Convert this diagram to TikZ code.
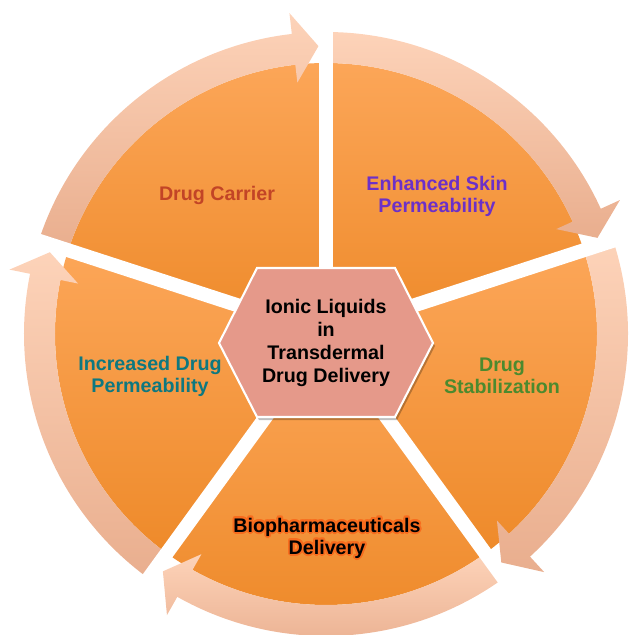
\documentclass[tikz,border=0pt]{standalone}
\usepackage{fontspec}
\setmainfont{Liberation Sans}
\usepackage{contour}
\usetikzlibrary{calc}

\definecolor{sectortop}{RGB}{252,166,88}
\definecolor{sectorbottom}{RGB}{238,138,42}
\definecolor{arrowtop}{RGB}{253,211,185}
\definecolor{arrowbottom}{RGB}{233,174,142}
\definecolor{hexfill}{RGB}{229,153,138}
\definecolor{carriercol}{RGB}{194,68,38}
\definecolor{skincol}{RGB}{108,48,200}
\definecolor{stabcol}{RGB}{76,138,46}
\definecolor{permcol}{RGB}{14,120,128}
\definecolor{glowcol}{RGB}{248,108,30}

\contourlength{1.1pt}

\begin{document}
\begin{tikzpicture}[
    x=0.02cm, y=0.02cm, % one unit = one pixel of the sketch
    sector/.style={top color=sectortop, bottom color=sectorbottom},
    ringarrow/.style={top color=arrowtop, bottom color=arrowbottom},
    gapline/.style={draw=white, line width=0.28cm},
    hexbox/.style={fill=hexfill, draw=white, line width=1.2pt},
    labelstyle/.style={font=\fontsize{11.2}{12.5}\selectfont\bfseries, align=center},
    hubstyle/.style={font=\fontsize{11.2}{13.2}\selectfont\bfseries, align=center}
]

\useasboundingbox (-326,-301) rectangle (303,334);

% Orange sectors
\foreach \s/\e in {162/90, 90/18, 18/-54, -54/-126, -126/-198}
    \path[sector] (0,0) -- (\s:271) arc[start angle=\s, end angle=\e, radius=271] -- cycle;

% Arrows around the ring (clockwise)
\foreach \s/\e in {162/90, 90/18, 18/-54, -54/-126, -126/-198} {
    \pgfmathsetmacro\baseang{\e+6.5}
    \pgfmathsetmacro\tipang{\e+1.5}
    \path[ringarrow] (\s:302) arc[start angle=\s, end angle=\baseang, radius=302]
        -- (\baseang:323) -- (\tipang:288) -- (\baseang:253) -- (\baseang:271)
        arc[start angle=\baseang, end angle=\s, radius=271] -- cycle;
}

% White gaps between sectors
\foreach \g in {90, 18, -54, -126, 162}
    \draw[gapline] (0,0) -- (\g:312);

% Centre hexagon
\coordinate (hub_c) at (0,-9);
\fill[black, opacity=0.25] ($(hub_c)+(-67,72)$) -- ($(hub_c)+(71,72)$) -- ($(hub_c)+(109,-3)$)
    -- ($(hub_c)+(71,-77)$) -- ($(hub_c)+(-67,-77)$) -- ($(hub_c)+(-105,-3)$) -- cycle;
\path[hexbox] ($(hub_c)+(-69,75)$) -- ($(hub_c)+(69,75)$) -- ($(hub_c)+(107,0)$)
    -- ($(hub_c)+(69,-74)$) -- ($(hub_c)+(-69,-74)$) -- ($(hub_c)+(-107,0)$) -- cycle;
\node (hub) [hubstyle] at (hub_c) {Ionic Liquids\\in\\Transdermal\\Drug Delivery};

% Sector labels
\node (carrier) [labelstyle, text=carriercol] at (-109,139) {Drug Carrier};
\node (skin) [labelstyle, text=skincol] at (111,138) {Enhanced Skin\\Permeability};
\node (stab) [labelstyle, text=stabcol] at (176,-42) {Drug\\Stabilization};
\node (bio) [labelstyle] at (1,-205) {\contour{glowcol}{Biopharmaceuticals}\\\contour{glowcol}{Delivery}};
\node (perm) [labelstyle, text=permcol] at (-176,-42) {Increased Drug\\Permeability};

\end{tikzpicture}
\end{document}
